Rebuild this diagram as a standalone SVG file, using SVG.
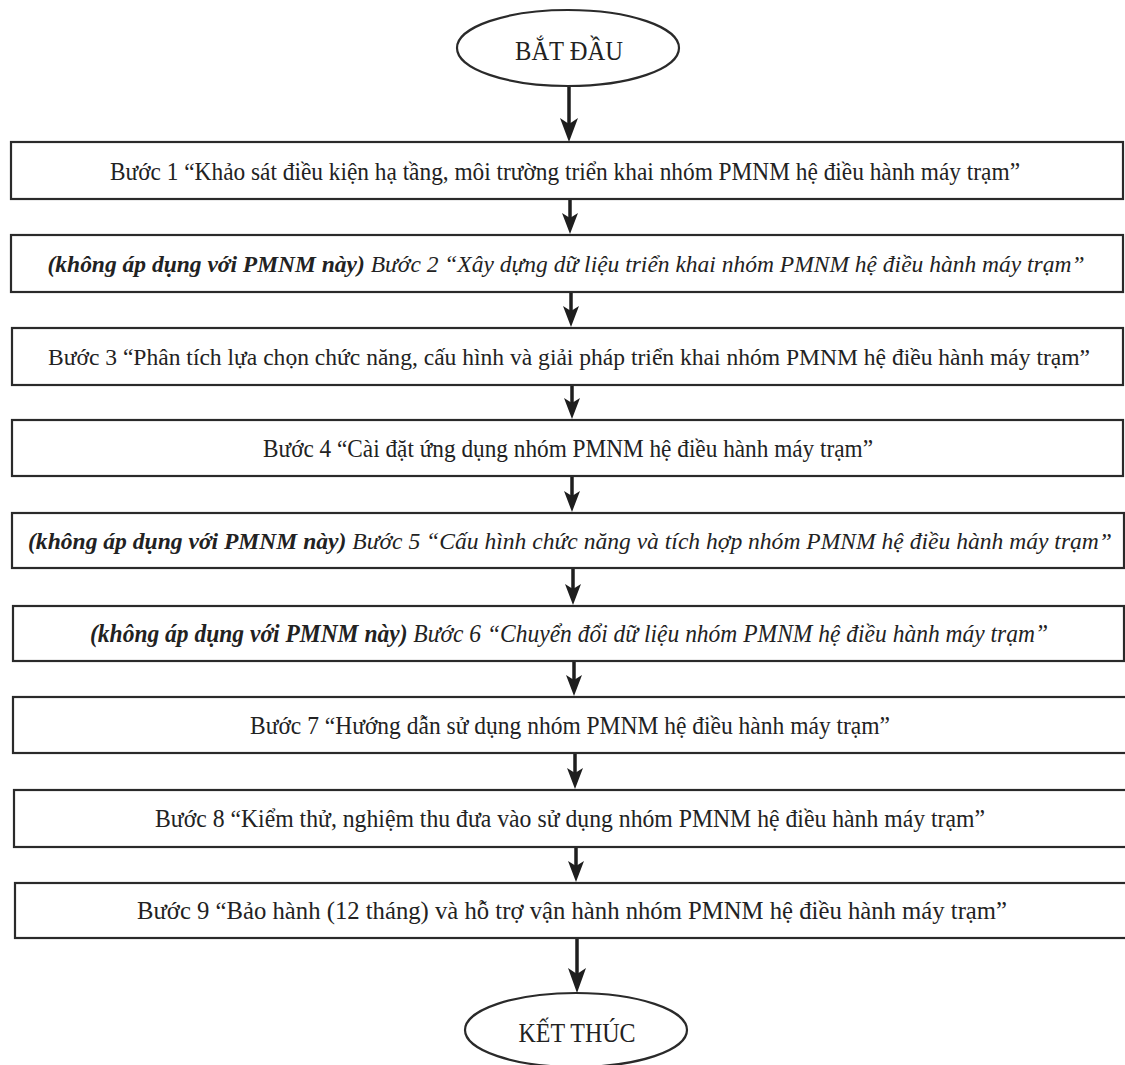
<svg xmlns="http://www.w3.org/2000/svg" width="1125" height="1065" viewBox="0 0 1125 1065">
<style>
.bg{fill:#fff}
.box{fill:#fff;stroke:#2a2a2a;stroke-width:2.2}
.term{fill:#fff;stroke:#2a2a2a;stroke-width:2.2}
.t{font-family:"Liberation Serif","Times New Roman",serif;font-size:25px;fill:#222;text-anchor:middle}
.s{font-size:24px}
.it{font-style:italic}
.bi{font-style:italic;font-weight:bold}
.tt{font-family:"Liberation Serif","Times New Roman",serif;font-size:28px;fill:#222;text-anchor:middle}
.conn{stroke:#1e1e1e;stroke-width:3.5;fill:none}
.head{fill:#1e1e1e}
</style>
<rect class="bg" x="0" y="0" width="1125" height="1065"/>

<g id="connectors">
<line class="conn" x1="569" y1="86" x2="569" y2="124"/>
<path class="head" d="M560,118 L569,142 L578,118 L569,124 Z"/>
<line class="conn" x1="570" y1="200" x2="570" y2="218"/>
<path class="head" d="M562,213 L570,234 L578,213 L570,218 Z"/>
<line class="conn" x1="571" y1="293" x2="571" y2="311"/>
<path class="head" d="M563,306 L571,327 L579,306 L571,311 Z"/>
<line class="conn" x1="572" y1="386" x2="572" y2="403"/>
<path class="head" d="M564,398 L572,419 L580,398 L572,403 Z"/>
<line class="conn" x1="572" y1="477" x2="572" y2="496"/>
<path class="head" d="M564,491 L572,512 L580,491 L572,496 Z"/>
<line class="conn" x1="573" y1="569" x2="573" y2="589"/>
<path class="head" d="M565,584 L573,605 L581,584 L573,589 Z"/>
<line class="conn" x1="574" y1="662" x2="574" y2="680"/>
<path class="head" d="M566,675 L574,696 L582,675 L574,680 Z"/>
<line class="conn" x1="575" y1="754" x2="575" y2="773"/>
<path class="head" d="M567,768 L575,789 L583,768 L575,773 Z"/>
<line class="conn" x1="576" y1="848" x2="576" y2="866"/>
<path class="head" d="M568,861 L576,882 L584,861 L576,866 Z"/>
<line class="conn" x1="577" y1="939" x2="577" y2="974"/>
<path class="head" d="M568,968 L577,993 L586,968 L577,974 Z"/>
</g>

<g id="start">
<ellipse class="term" cx="568" cy="48" rx="111" ry="38"/>
<text class="tt" x="569" y="60" textLength="108" lengthAdjust="spacingAndGlyphs">BẮT ĐẦU</text>
</g>

<g id="step1">
<rect class="box" x="11" y="142" width="1112" height="57"/>
<text class="t" x="565" y="180" textLength="910" lengthAdjust="spacingAndGlyphs">Bước 1 “Khảo sát điều kiện hạ tầng, môi trường triển khai nhóm PMNM hệ điều hành máy trạm”</text>
</g>

<g id="step2">
<rect class="box" x="11" y="235" width="1112" height="57"/>
<text class="t s it" x="566" y="272" textLength="1037" lengthAdjust="spacingAndGlyphs"><tspan class="bi">(không áp dụng với PMNM này)</tspan> Bước 2 “Xây dựng dữ liệu triển khai nhóm PMNM hệ điều hành máy trạm”</text>
</g>

<g id="step3">
<rect class="box" x="12" y="328" width="1111" height="57"/>
<text class="t s" x="569" y="365" textLength="1042" lengthAdjust="spacingAndGlyphs">Bước 3 “Phân tích lựa chọn chức năng, cấu hình và giải pháp triển khai nhóm PMNM hệ điều hành máy trạm”</text>
</g>

<g id="step4">
<rect class="box" x="12" y="420" width="1111" height="56"/>
<text class="t" x="568" y="457" textLength="610" lengthAdjust="spacingAndGlyphs">Bước 4 “Cài đặt ứng dụng nhóm PMNM hệ điều hành máy trạm”</text>
</g>

<g id="step5">
<rect class="box" x="12" y="513" width="1112" height="55"/>
<text class="t s it" x="570" y="549" textLength="1084" lengthAdjust="spacingAndGlyphs"><tspan class="bi">(không áp dụng với PMNM này)</tspan> Bước 5 “Cấu hình chức năng và tích hợp nhóm PMNM hệ điều hành máy trạm”</text>
</g>

<g id="step6">
<rect class="box" x="13" y="606" width="1111" height="55"/>
<text class="t it" x="569" y="642" textLength="958" lengthAdjust="spacingAndGlyphs"><tspan class="bi">(không áp dụng với PMNM này)</tspan> Bước 6 “Chuyển đổi dữ liệu nhóm PMNM hệ điều hành máy trạm”</text>
</g>

<g id="step7">
<rect class="box" x="13" y="697" width="1114" height="56"/>
<text class="t" x="570" y="734" textLength="640" lengthAdjust="spacingAndGlyphs">Bước 7 “Hướng dẫn sử dụng nhóm PMNM hệ điều hành máy trạm”</text>
</g>

<g id="step8">
<rect class="box" x="14" y="790" width="1113" height="57"/>
<text class="t" x="570" y="827" textLength="830" lengthAdjust="spacingAndGlyphs">Bước 8 “Kiểm thử, nghiệm thu đưa vào sử dụng nhóm PMNM hệ điều hành máy trạm”</text>
</g>

<g id="step9">
<rect class="box" x="15" y="883" width="1112" height="55"/>
<text class="t" x="572" y="919" textLength="870" lengthAdjust="spacingAndGlyphs">Bước 9 “Bảo hành (12 tháng) và hỗ trợ vận hành nhóm PMNM hệ điều hành máy trạm”</text>
</g>

<g id="end">
<ellipse class="term" cx="576" cy="1030" rx="111" ry="37"/>
<text class="tt" x="577" y="1042" textLength="117" lengthAdjust="spacingAndGlyphs">KẾT THÚC</text>
</g>
</svg>
